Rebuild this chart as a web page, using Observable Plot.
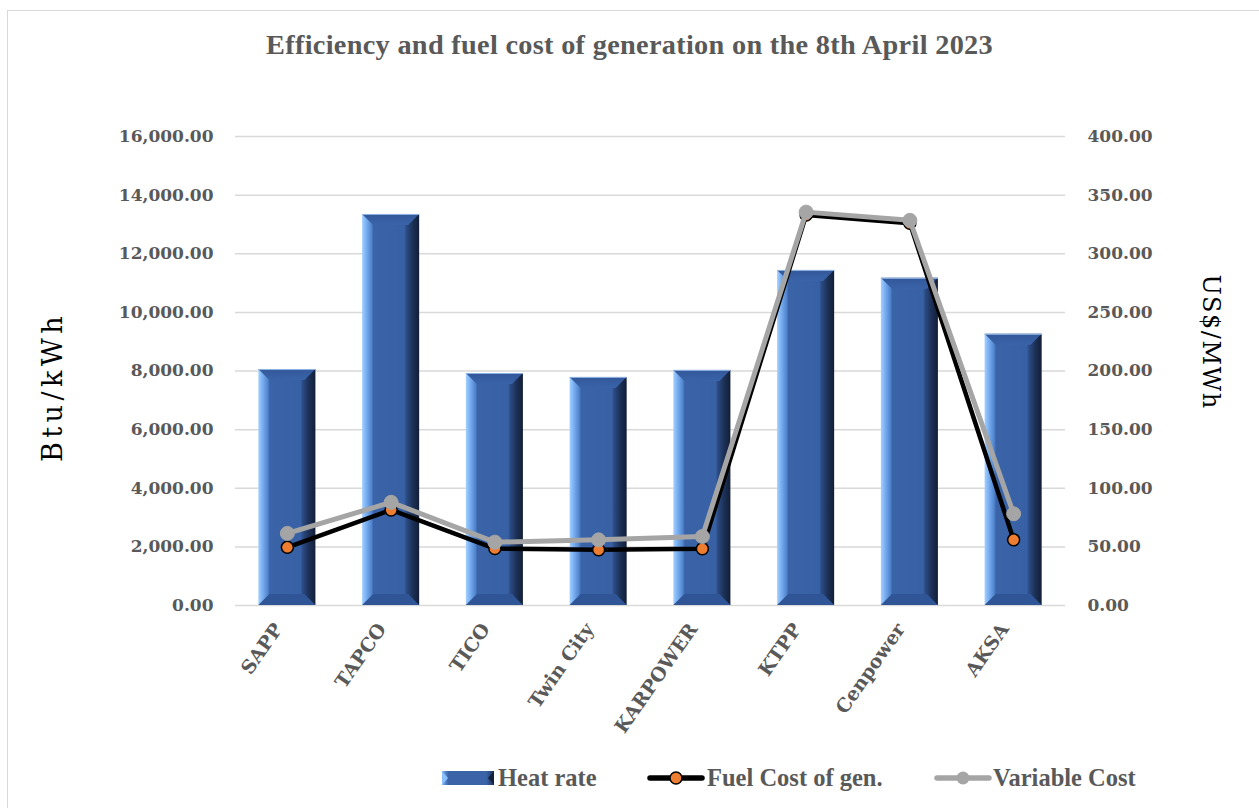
<!DOCTYPE html>
<html>
<head>
<meta charset="utf-8">
<script src="https://cdn.jsdelivr.net/npm/d3@7"></script>
<script src="https://cdn.jsdelivr.net/npm/@observablehq/plot@0.6"></script>
<style>
  html, body { margin: 0; padding: 0; background: #fff; overflow: hidden; }
  #wrap { position: relative; width: 1259px; height: 808px; overflow: hidden; }
  #frame { position: absolute; left: 7px; top: 10px; width: 1300px; height: 900px; border: 1.5px solid #d9d9d9; box-sizing: border-box; }
  #title { position: absolute; left: 0; top: 29px; width: 1259px; text-align: center; font-family: "Liberation Serif", serif; font-weight: bold; font-size: 28.3px; color: #595959; letter-spacing: 0.3px; }
  #chart { position: absolute; left: 0; top: 100px; }
  #legend { position: absolute; left: 0; top: 762px; width: 1259px; height: 32px; }
  .sw { position: absolute; top: 6px; }
  .lt { position: absolute; top: 0; line-height: 32px; font-family: "Liberation Serif", serif; font-weight: bold; font-size: 24.5px; color: #595959; white-space: nowrap; }
  .ylab { position: absolute; font-family: "DejaVu Serif", serif; color: #000; white-space: nowrap; }
</style>
</head>
<body>
<div id="wrap">
  <div id="frame"></div>
  <div id="title">Efficiency and fuel cost of generation on the 8th April 2023</div>
  <div id="chart"></div>
  <div class="ylab" id="ylabL" style="left:52px; top:387px; font-size:27px; letter-spacing:4.5px; transform: translate(-50%,-50%) rotate(-90deg);">Btu/kWh</div>
  <div class="ylab" id="ylabR" style="left:1211px; top:342px; font-size:24px; letter-spacing:1.5px; transform: translate(-50%,-50%) rotate(90deg);">US$/MWh</div>
  <div id="legend"></div>
</div>
<script>
// ---- Data ----
const plants = ["SAPP", "TAPCO", "TICO", "Twin City", "KARPOWER", "KTPP", "Cenpower", "AKSA"];
const heatRate = [8050, 13340, 7915, 7780, 8020, 11430, 11160, 9250];          // Btu/kWh (left axis)
const fuelCost = [49.6, 81.5, 48.6, 47.6, 48.4, 333, 326, 56];                 // US$/MWh (right axis)
const variableCost = [61.5, 88.0, 54.0, 56.0, 58.8, 335.5, 328.5, 78.2];       // US$/MWh (right axis)
const leftTicks = [0, 2000, 4000, 6000, 8000, 10000, 12000, 14000, 16000];
const rightTicks = [0, 50, 100, 150, 200, 250, 300, 350, 400];
const seriesNames = ["Heat rate", "Fuel Cost of gen.", "Variable Cost"];

const ratio = 16000 / 400; // maps right-axis values onto the left scale

const rows = plants.map((p, i) => ({plant: p, heat: heatRate[i], fuel: fuelCost[i], vc: variableCost[i]}));

const fmtL = d3.format(",.2f");
const fmtR = d3.format(".2f");
const tickFont = {fontFamily: "DejaVu Serif", fontWeight: "bold", fontSize: 17, fill: "#595959"};

// Bevel rendering for bars (adds top/bottom bevel from the rects rendered by Plot)
function bevel(index, scales, values, dimensions, context, next) {
  const g = next(index, scales, values, dimensions, context);
  const ns = "http://www.w3.org/2000/svg";
  const rects = Array.from(g.querySelectorAll("rect"));
  for (const r of rects) {
    const x = +r.getAttribute("x"), y = +r.getAttribute("y"), w = +r.getAttribute("width"), h = +r.getAttribute("height");
    const b = 11;
    const top = document.createElementNS(ns, "polygon");
    top.setAttribute("points", `${x},${y} ${x + w},${y} ${x + w - b},${y + b} ${x + b},${y + b}`);
    top.setAttribute("fill", "url(#bevTop)");
    g.appendChild(top);
    const bot = document.createElementNS(ns, "polygon");
    bot.setAttribute("points", `${x + b},${y + h - b} ${x + w - b},${y + h - b} ${x + w},${y + h} ${x},${y + h}`);
    bot.setAttribute("fill", "#2f5597");
    g.appendChild(bot);
    const edge = document.createElementNS(ns, "line");
    edge.setAttribute("x1", x); edge.setAttribute("x2", x + w);
    edge.setAttribute("y1", y + 0.5); edge.setAttribute("y2", y + 0.5);
    edge.setAttribute("stroke", "#8fb4e3"); edge.setAttribute("stroke-width", 1);
    g.appendChild(edge);
  }
  return g;
}

const defs = () => {
  const s = d3.create("svg:defs");
  const g1 = s.append("linearGradient").attr("id", "bevBody").attr("x1", 0).attr("x2", 1).attr("y1", 0).attr("y2", 0);
  [[0, "#a6d0ff"], [0.06, "#7fb5f5"], [0.17, "#4f82cc"], [0.2, "#3a63a8"], [0.74, "#3760a5"], [0.78, "#2b4a82"], [0.88, "#1d3259"], [1, "#121e36"]]
    .forEach(([o, c]) => g1.append("stop").attr("offset", o).attr("stop-color", c));
  const g2 = s.append("linearGradient").attr("id", "bevTop").attr("x1", 0).attr("x2", 0).attr("y1", 0).attr("y2", 1);
  [[0, "#33589a"], [1, "#3a63a8"]].forEach(([o, c]) => g2.append("stop").attr("offset", o).attr("stop-color", c));
  return s.node();
};

const chart = Plot.plot({
  width: 1259,
  height: 660,
  marginLeft: 235,
  marginRight: 194,
  marginTop: 36,
  marginBottom: 155,
  style: {background: "transparent", overflow: "visible"},
  x: {domain: plants, paddingInner: 0.45, paddingOuter: 0.225, round: false, label: null},
  y: {domain: [0, 16000], label: null},
  marks: [
    defs,
    Plot.ruleY(leftTicks, {stroke: "#d9d9d9", strokeWidth: 1.5}),
    Plot.axisY({ticks: leftTicks, tickFormat: fmtL, tickSize: 0, tickPadding: 22, label: null, ...tickFont, letterSpacing: 3.2}),
    Plot.axisY({anchor: "right", ticks: rightTicks.map(d => d * ratio), tickFormat: d => fmtR(d / ratio), tickSize: 0, tickPadding: 22, textAnchor: "start", label: null, ...tickFont, letterSpacing: 2.6}),
    Plot.axisX({tickSize: 0, tickRotate: -55, tickPadding: 20, label: null, ...tickFont, fontSize: 19, letterSpacing: 2, dx: -9}),
    Plot.barY(rows, {x: "plant", y: "heat", fill: "url(#bevBody)", render: bevel}),
    Plot.line(rows, {x: "plant", y: d => d.fuel * ratio, stroke: "#000", strokeWidth: 4.5}),
    Plot.dot(rows, {x: "plant", y: d => d.fuel * ratio, r: 6, fill: "#ed7d31", stroke: "#000", strokeWidth: 1.5}),
    Plot.line(rows, {x: "plant", y: d => d.vc * ratio, stroke: "#a5a5a5", strokeWidth: 5}),
    Plot.dot(rows, {x: "plant", y: d => d.vc * ratio, r: 7, fill: "#a5a5a5", stroke: "#a5a5a5", strokeWidth: 1})
  ]
});
document.getElementById("chart").appendChild(chart);

// ---- Legend ----
const leg = document.getElementById("legend");
const swatches = [
  `<svg width="54" height="20"><defs><linearGradient id="lgb" x1="0" x2="1"><stop offset="0" stop-color="#7fb5f5"/><stop offset="0.12" stop-color="#3a63a8"/><stop offset="0.85" stop-color="#3a63a8"/><stop offset="1" stop-color="#1d3259"/></linearGradient></defs><rect x="0" y="3" width="52" height="14" fill="url(#lgb)"/><polygon points="0,3 6,10 0,17" fill="#8cc1ff"/><polygon points="52,3 46,10 52,17" fill="#14213a"/></svg>`,
  `<svg width="58" height="20"><line x1="3" x2="55" y1="10" y2="10" stroke="#000" stroke-width="5.5" stroke-linecap="round"/><circle cx="29" cy="10" r="6" fill="#ed7d31" stroke="#000" stroke-width="1.5"/></svg>`,
  `<svg width="58" height="20"><line x1="3" x2="55" y1="10" y2="10" stroke="#a5a5a5" stroke-width="5.5" stroke-linecap="round"/><circle cx="29" cy="10" r="6.5" fill="#a5a5a5"/></svg>`
];
const swLeft = [442, 647, 934];
const txtLeft = [498, 707, 993];
seriesNames.forEach((name, i) => {
  const s = document.createElement("div");
  s.className = "sw"; s.style.left = swLeft[i] + "px"; s.innerHTML = swatches[i];
  leg.appendChild(s);
  const t = document.createElement("div");
  t.className = "lt"; t.style.left = txtLeft[i] + "px"; t.textContent = name;
  leg.appendChild(t);
});
</script>
</body>
</html>
